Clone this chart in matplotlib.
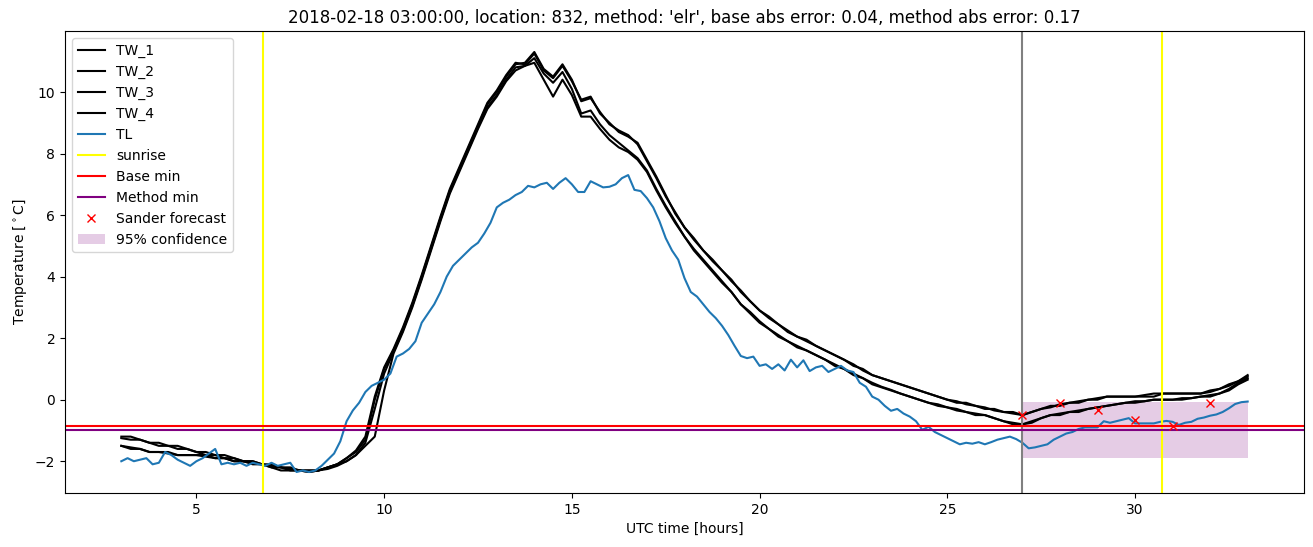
import numpy as np
import matplotlib
matplotlib.use("Agg")
import matplotlib.pyplot as plt

# ---------------- data ----------------
tw_start, tw_step = 3.0, 0.25      # hours
tl_start, tl_step = 3.0, 1.0 / 6   # hours

TW_1 = [
    -1.2, -1.2, -1.3, -1.4,
    -1.4, -1.5, -1.5, -1.6,
    -1.7, -1.7, -1.8, -1.8,
    -1.9, -2.0, -2.0, -2.1,
    -2.2, -2.2, -2.3, -2.3,
    -2.3, -2.3, -2.2, -2.1,
    -1.9, -1.7, -1.3, 0.0,
    1.0, 1.6, 2.3, 3.1,
    4.0, 4.95, 5.9, 6.8,
    7.5, 8.2, 8.9, 9.6,
    10.0, 10.5, 10.9, 10.95,
    11.3, 10.75, 10.5, 10.9,
    10.4, 9.7, 9.8, 9.35,
    8.95, 8.75, 8.6, 8.3,
    7.75, 7.2, 6.6, 6.1,
    5.6, 5.2, 4.85, 4.5,
    4.2, 3.9, 3.5, 3.2,
    2.9, 2.65, 2.45, 2.2,
    2.05, 1.9, 1.75, 1.6,
    1.45, 1.3, 1.15, 0.95,
    0.8, 0.7, 0.6, 0.5,
    0.4, 0.3, 0.2, 0.1,
    0.0, -0.1, -0.1, -0.2,
    -0.3, -0.3, -0.4, -0.4,
    -0.5, -0.4, -0.3, -0.2,
    -0.2, -0.1, -0.1, 0.0,
    0.0, 0.1, 0.1, 0.1,
    0.1, 0.1, 0.1, 0.2,
    0.2, 0.2, 0.2, 0.2,
    0.25, 0.35, 0.45, 0.6,
    0.8,
]

TW_2 = [
    -1.25, -1.3, -1.3, -1.4,
    -1.5, -1.5, -1.6, -1.6,
    -1.7, -1.8, -1.8, -1.9,
    -1.9, -2.0, -2.1, -2.1,
    -2.2, -2.3, -2.3, -2.3,
    -2.35, -2.3, -2.2, -2.1,
    -1.9, -1.65, -1.2, 0.1,
    1.05, 1.65, 2.35, 3.15,
    4.05, 5.0, 5.95, 6.85,
    7.55, 8.25, 8.95, 9.65,
    10.05, 10.55, 10.95, 10.9,
    11.25, 10.7, 10.45, 10.85,
    10.35, 9.75, 9.85, 9.3,
    9.0, 8.7, 8.55, 8.35,
    7.8, 7.25, 6.65, 6.05,
    5.6, 5.25, 4.85, 4.55,
    4.2, 3.85, 3.55, 3.2,
    2.9, 2.7, 2.45, 2.25,
    2.05, 1.95, 1.75, 1.6,
    1.45, 1.3, 1.1, 1.0,
    0.8, 0.7, 0.6, 0.5,
    0.4, 0.3, 0.2, 0.1,
    0.0, -0.05, -0.15, -0.2,
    -0.25, -0.35, -0.4, -0.45,
    -0.5, -0.4, -0.3, -0.25,
    -0.15, -0.1, -0.05, 0.0,
    0.05, 0.1, 0.1, 0.1,
    0.1, 0.15, 0.2, 0.2,
    0.2, 0.2, 0.2, 0.2,
    0.3, 0.35, 0.5, 0.6,
    0.75,
]

TW_3 = [
    -1.5, -1.6, -1.6, -1.7,
    -1.7, -1.7, -1.8, -1.8,
    -1.8, -1.8, -1.9, -1.9,
    -2.0, -2.0, -2.0, -2.1,
    -2.1, -2.2, -2.2, -2.3,
    -2.3, -2.3, -2.2, -2.1,
    -2.0, -1.8, -1.4, -0.3,
    0.85, 1.55, 2.25, 3.05,
    3.95, 4.9, 5.85, 6.75,
    7.45, 8.15, 8.85, 9.5,
    9.9, 10.4, 10.8, 10.85,
    11.1, 10.6, 10.3, 10.65,
    10.1, 9.3, 9.4, 8.95,
    8.6, 8.35, 8.1, 7.85,
    7.45, 6.85, 6.3, 5.8,
    5.3, 4.9, 4.55, 4.2,
    3.85, 3.5, 3.1, 2.85,
    2.55, 2.3, 2.1, 1.9,
    1.75, 1.6, 1.45, 1.3,
    1.15, 1.0, 0.85, 0.7,
    0.55, 0.42, 0.32, 0.2,
    0.1, 0.0, -0.1, -0.15,
    -0.25, -0.35, -0.4, -0.45,
    -0.5, -0.6, -0.7, -0.8,
    -0.8, -0.7, -0.6, -0.5,
    -0.45, -0.4, -0.35, -0.3,
    -0.25, -0.2, -0.15, -0.1,
    -0.1, -0.05, 0.0, 0.0,
    0.0, 0.0, 0.05, 0.1,
    0.1, 0.2, 0.35, 0.55,
    0.7,
]

TW_4 = [
    -1.5, -1.55, -1.6, -1.7,
    -1.7, -1.75, -1.8, -1.8,
    -1.8, -1.85, -1.9, -1.9,
    -2.0, -2.0, -2.05, -2.1,
    -2.15, -2.2, -2.25, -2.3,
    -2.35, -2.3, -2.25, -2.15,
    -2.0, -1.8, -1.5, -1.2,
    0.3, 1.5, 2.2, 3.0,
    3.9, 4.85, 5.8, 6.7,
    7.4, 8.1, 8.8, 9.45,
    9.85, 10.35, 10.7, 10.85,
    10.95, 10.4, 9.85, 10.4,
    9.9, 9.2, 9.2, 8.8,
    8.45, 8.2, 8.05, 7.8,
    7.4, 6.8, 6.25, 5.75,
    5.3, 4.85, 4.5, 4.15,
    3.8, 3.5, 3.1, 2.8,
    2.5, 2.3, 2.05, 1.9,
    1.7, 1.6, 1.45, 1.3,
    1.1, 1.0, 0.8, 0.7,
    0.5, 0.4, 0.3, 0.2,
    0.1, 0.0, -0.1, -0.2,
    -0.25, -0.3, -0.4, -0.5,
    -0.5, -0.6, -0.7, -0.75,
    -0.8, -0.75, -0.6, -0.5,
    -0.5, -0.4, -0.4, -0.3,
    -0.25, -0.2, -0.15, -0.1,
    -0.05, -0.05, 0.0, 0.0,
    0.0, 0.05, 0.05, 0.1,
    0.15, 0.2, 0.3, 0.5,
    0.65,
]

TL = [
    -2.0, -1.9, -2.0, -1.95, -1.9, -2.1,
    -2.05, -1.7, -1.8, -1.95, -2.05, -2.15,
    -2.0, -1.9, -1.75, -1.6, -2.1, -2.05,
    -2.1, -2.05, -2.15, -2.05, -2.1, -2.15,
    -2.05, -2.15, -2.1, -2.05, -2.35, -2.3,
    -2.35, -2.3, -2.15, -1.95, -1.75, -1.35,
    -0.7, -0.35, -0.1, 0.25, 0.45, 0.55,
    0.65, 0.85, 1.4, 1.5, 1.65, 1.9,
    2.5, 2.8, 3.1, 3.5, 4.0, 4.35,
    4.55, 4.75, 4.95, 5.1, 5.4, 5.75,
    6.25, 6.4, 6.5, 6.65, 6.75, 6.95,
    6.9, 7.0, 7.05, 6.85, 7.05, 7.2,
    7.0, 6.75, 6.75, 7.1, 7.0, 6.9,
    6.92, 7.0, 7.2, 7.3, 6.82, 6.78,
    6.55, 6.25, 5.8, 5.25, 4.85, 4.55,
    3.95, 3.5, 3.35, 3.1, 2.85, 2.65,
    2.4, 2.1, 1.75, 1.42, 1.35, 1.4,
    1.1, 1.15, 1.0, 1.15, 0.95, 1.3,
    1.05, 1.28, 0.93, 1.05, 1.1, 0.9,
    1.0, 1.1, 0.95, 0.9, 0.55, 0.42,
    0.1, 0.0, -0.2, -0.36, -0.3, -0.45,
    -0.55, -0.7, -0.98, -0.88, -1.05, -1.15,
    -1.25, -1.35, -1.45, -1.4, -1.43, -1.38,
    -1.45, -1.38, -1.3, -1.25, -1.2, -1.28,
    -1.4, -1.58, -1.55, -1.5, -1.45, -1.3,
    -1.2, -1.1, -1.05, -0.95, -0.9, -0.9,
    -0.9, -0.7, -0.75, -0.7, -0.65, -0.6,
    -0.77, -0.77, -0.77, -0.77, -0.72, -0.69,
    -0.72, -0.82, -0.75, -0.72, -0.62, -0.58,
    -0.52, -0.48, -0.4, -0.28, -0.14, -0.08,
    -0.06,
]

sunrise_hours = [6.77, 30.73]
forecast_start = 27.0
base_min = -0.85
method_min = -0.97
sander_hours = [27, 28, 29, 30, 31, 32]
sander_temps = [-0.50, -0.11, -0.33, -0.66, -0.86, -0.11]
conf_hours = [27, 33]
conf_low = [-1.89, -1.89]
conf_high = [-0.07, -0.07]

title = ("2018-02-18 03:00:00, location: 832, method: 'elr', "
         "base abs error: 0.04, method abs error: 0.17")

# ---------------- plot ----------------
fig = plt.figure(figsize=(13.13, 5.47), dpi=100)
ax = fig.add_axes([65 / 1313, 1 - 493 / 547, (1304 - 65) / 1313, (493 - 31) / 547])

t_tw = tw_start + tw_step * np.arange(len(TW_1))
t_tl = tl_start + tl_step * np.arange(len(TL))

for name, vals in [("TW_1", TW_1), ("TW_2", TW_2), ("TW_3", TW_3), ("TW_4", TW_4)]:
    ax.plot(tw_start + tw_step * np.arange(len(vals)), vals, color="black", label=name)
ax.plot(t_tl, TL, color="tab:blue", label="TL")

for i, s in enumerate(sunrise_hours):
    ax.axvline(s, color="yellow", label="sunrise" if i == 0 else None)
ax.axvline(forecast_start, color="grey")
ax.axhline(base_min, color="red", label="Base min")
ax.axhline(method_min, color="purple", label="Method min")
ax.plot(sander_hours, sander_temps, "x", color="red", linestyle="none",
        label="Sander forecast")
ax.fill_between(conf_hours, conf_low, conf_high, color="purple", alpha=0.2,
                linewidth=0, label="95% confidence")

ax.set_title(title)
ax.set_xlabel("UTC time [hours]")
ax.set_ylabel("Temperature [$^\\circ$C]")
ax.legend(loc="upper left")

fig.savefig("out.png", dpi=100)
